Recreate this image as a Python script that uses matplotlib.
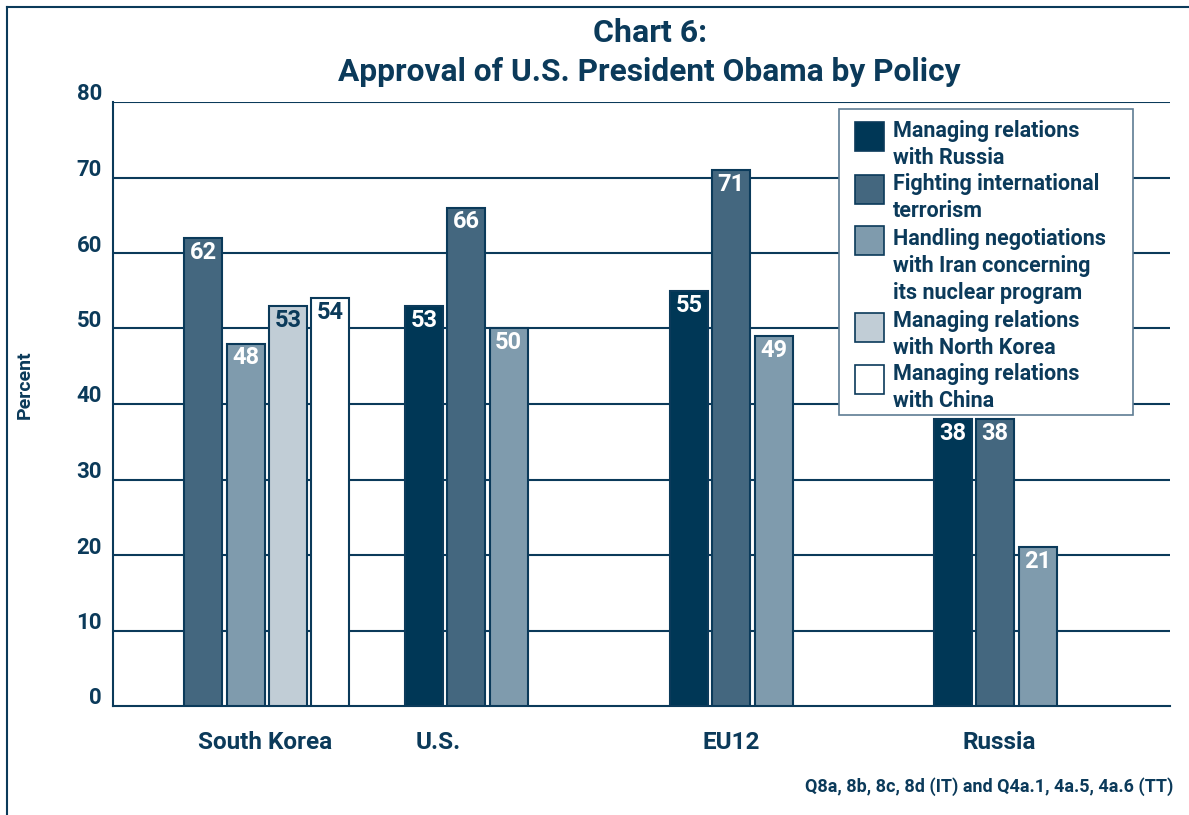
import matplotlib.pyplot as plt
import numpy as np
from matplotlib.lines import Line2D
from matplotlib.patches import Rectangle
from matplotlib.transforms import ScaledTranslation

# data
categories = ['South Korea', 'U.S.', 'EU12', 'Russia']
series_names = ['Managing relations\nwith Russia',
                'Fighting international\nterrorism',
                'Handling negotiations\nwith Iran concerning\nits nuclear program',
                'Managing relations\nwith North Korea',
                'Managing relations\nwith China']
russia = [np.nan, 53, 55, 38]
terrorism = [62, 66, 71, 38]
iran = [48, 50, 49, 21]
north_korea = [53, np.nan, np.nan, np.nan]
china = [54, np.nan, np.nan, np.nan]
values = [russia, terrorism, iran, north_korea, china]

colors = ['#003756', '#44677f', '#7f9bad', '#c1cdd6', '#ffffff']
label_colors = ['white', 'white', 'white', '#0b3a5a', '#0b3a5a']
navy = '#0b3a5a'

# layout (axis units = pixels from left of plot area)
group_left = np.array([29, 292, 557, 821])
slot = 42.3
bar_w = 38
label_x = [152, 325, 618, 886]

W, H = 1189, 815
plt.rcParams['font.family'] = ['Roboto', 'DejaVu Sans']

fig = plt.figure(figsize=(W/100, H/100), dpi=100)
ax = fig.add_axes([113/W, 1-706/H, (1170-113)/W, (706-102)/H])

def fx(px):
    return px / W

def fy(py):
    return 1 - py / H

for i, vals in enumerate(values):
    xs = group_left + i*slot
    ax.bar(xs, vals, width=bar_w, align='edge', color=colors[i],
           edgecolor=navy, linewidth=1.5, zorder=3)
    for x, v in zip(xs, vals):
        if np.isnan(v):
            continue
        ax.annotate(str(int(v)), (x + bar_w/2, v), xytext=(0, -2),
                    textcoords='offset points', ha='center', va='top',
                    color=label_colors[i], fontsize=17, fontweight='bold',
                    zorder=4)

ax.set_xlim(0, 1057)
ax.set_ylim(0, 80)
ax.set_yticks(range(0, 81, 10))
for y in range(10, 81, 10):
    ax.axhline(y, color=navy, lw=1.5, zorder=1)
ax.set_xticks(label_x)
ax.set_xticklabels(categories, fontsize=17.5, fontweight='bold', color=navy)
ax.tick_params(axis='both', length=0, colors=navy)
ax.tick_params(axis='y', labelsize=16, pad=8)
ax.tick_params(axis='x', pad=18)
# y tick labels sit a little above their gridlines in the original
lift = ScaledTranslation(0, 0.10, fig.dpi_scale_trans)
for lbl in ax.get_yticklabels():
    lbl.set_fontweight('bold')
    lbl.set_transform(lbl.get_transform() + lift)
for s in ['top', 'right']:
    ax.spines[s].set_visible(False)
for s in ['left', 'bottom']:
    ax.spines[s].set_color(navy)
    ax.spines[s].set_linewidth(1.5)

fig.text(fx(25), fy(385), 'Percent', rotation=90, ha='center', va='center',
         fontsize=14, fontweight='bold', color=navy)
fig.text(fx(650), fy(33), 'Chart 6:', ha='center', va='center',
         fontsize=23, fontweight='bold', color=navy)
fig.text(fx(649), fy(72), 'Approval of U.S. President Obama by Policy',
         ha='center', va='center', fontsize=22.8, fontweight='bold', color=navy)
fig.text(fx(1173), fy(787), 'Q8a, 8b, 8c, 8d (IT) and Q4a.1, 4a.5, 4a.6 (TT)',
         ha='right', va='center', fontsize=13, fontweight='bold', color=navy)

# legend box, drawn by hand so the swatches sit at the top of each entry
fig.add_artist(Rectangle((fx(839), fy(415)), fx(1133) - fx(839),
                         fy(109) - fy(415), transform=fig.transFigure,
                         facecolor='white', edgecolor='#5f7d94', lw=1.2,
                         zorder=5))
swatch_top = [122, 175, 226, 313, 365]
text_top = [131, 184, 239, 321, 374]
line_gap = 27
for i, name in enumerate(series_names):
    fig.add_artist(Rectangle((fx(855), fy(swatch_top[i] + 29)), fx(29),
                             29/H, transform=fig.transFigure,
                             facecolor=colors[i], edgecolor=navy, lw=1.2,
                             zorder=6))
    for j, line in enumerate(name.split('\n')):
        fig.text(fx(893), fy(text_top[i] + j*line_gap), line, ha='left',
                 va='center', fontsize=15.5, fontweight='bold', color=navy,
                 zorder=7)

# figure frame (left and top edges)
fig.add_artist(Line2D([fx(7), fx(7)], [0, fy(7)], color=navy, lw=1.5,
                      transform=fig.transFigure))
fig.add_artist(Line2D([fx(7), 1], [fy(7), fy(7)], color=navy, lw=1.5,
                      transform=fig.transFigure))

fig.savefig('out.png', dpi=100)
